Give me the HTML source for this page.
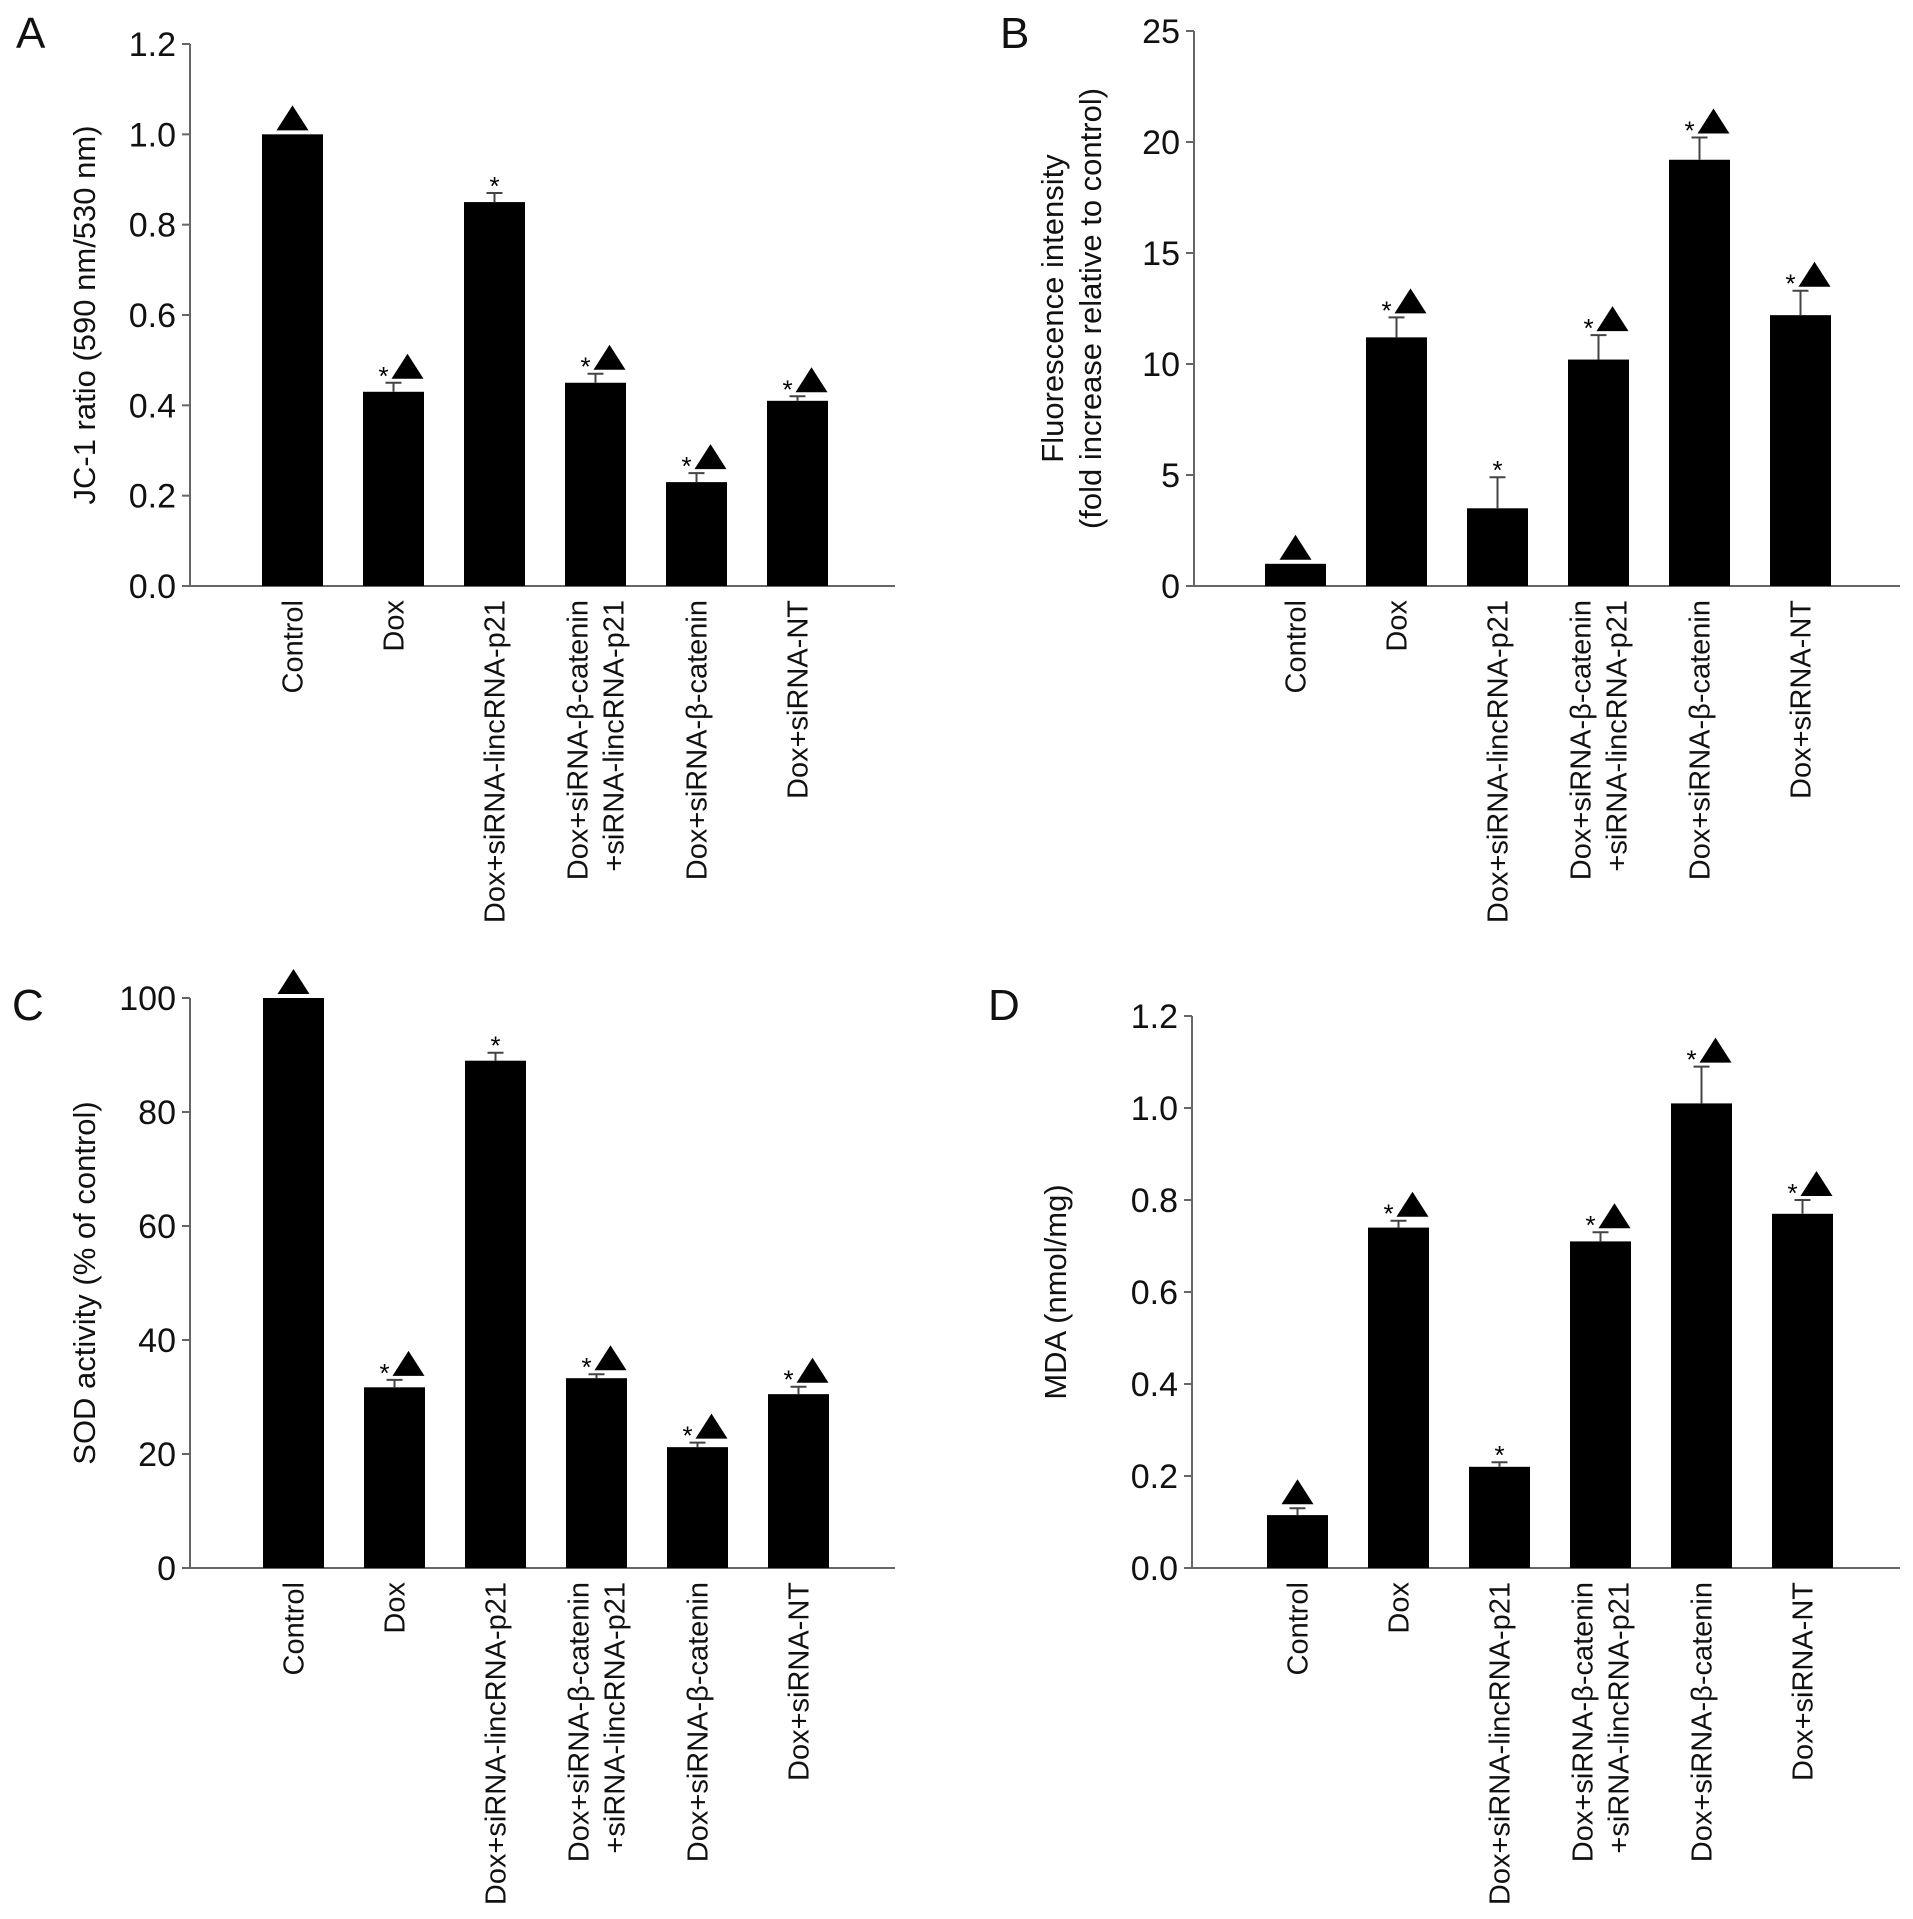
<!DOCTYPE html>
<html><head><meta charset="utf-8"><style>
html,body{margin:0;padding:0;background:#fff;}
svg{display:block;font-family:"Liberation Sans",sans-serif;}
</style></head><body>
<svg id="fig" width="1913" height="1919" viewBox="0 0 1913 1919"></svg>
<script>
const categories = ["Control","Dox","Dox+siRNA-lincRNA-p21","Dox+siRNA-β-catenin|+siRNA-lincRNA-p21","Dox+siRNA-β-catenin","Dox+siRNA-NT"];
const marks = ["t","st","s","st","st","st"];
const valuesA = [1.0,0.43,0.85,0.45,0.23,0.41];
const errA = [0,0.02,0.02,0.02,0.02,0.01];
const ticksA = ["0.0","0.2","0.4","0.6","0.8","1.0","1.2"];
const valuesB = [1.0,11.2,3.5,10.2,19.2,12.2];
const errB = [0,0.9,1.4,1.1,1.0,1.1];
const ticksB = ["0","5","10","15","20","25"];
const valuesC = [100,31.7,89,33.3,21.2,30.5];
const errC = [0,1.3,1.4,0.7,0.8,1.3];
const ticksC = ["0","20","40","60","80","100"];
const valuesD = [0.115,0.74,0.22,0.71,1.01,0.77];
const errD = [0.015,0.015,0.01,0.02,0.08,0.03];
const ticksD = ["0.0","0.2","0.4","0.6","0.8","1.0","1.2"];

const NS="http://www.w3.org/2000/svg";
const svg=document.getElementById('fig');
function mk(tag,attrs,parent,text){const e=document.createElementNS(NS,tag);for(const k in attrs)e.setAttribute(k,attrs[k]);if(text!==undefined)e.textContent=text;(parent||svg).appendChild(e);return e;}

function panel(o){
  const g=mk('g',{});
  
  
  const max=parseFloat(o.ticks[o.ticks.length-1]);
  const y=v=>o.y0-(v/max)*(o.y0-o.yTop);
  const bx=i=>o.bar0+i*101;
  const lt=mk('text',{x:o.lx,y:o.ly,'font-size':44,fill:'#111'},g,o.letter);
  
  
  const ax=mk('line',{x1:o.ax,y1:o.yTop,x2:o.ax,y2:o.y0,stroke:'#666','stroke-width':2},g);
  
  
  const xa=mk('line',{x1:o.ax-8,y1:o.y0,x2:o.xEnd,y2:o.y0,stroke:'#666','stroke-width':2},g);
  
  
  o.ticks.forEach(t=>{
    const ty=y(parseFloat(t));
    const tk=mk('line',{x1:o.ax-8,y1:ty,x2:o.ax,y2:ty,stroke:'#666','stroke-width':2},g);
    
    
    const tl=mk('text',{x:o.ax-14,y:ty+12,'font-size':34,'text-anchor':'end',fill:'#111'},g,t);
    
    
  });
  const cy=(o.yTop+o.y0)/2;
  o.title.forEach((line,k)=>{
    const tx=o.tx+k*38;
    const tt=mk('text',{x:tx,y:cy,'font-size':31,'text-anchor':'middle',fill:'#111',transform:`rotate(-90 ${tx} ${cy})`},g,line);
    
    
  });
  o.values.forEach((v,i)=>{
    const x=bx(i), w=61, c=x+w/2, top=y(v);
    const r=mk('rect',{x:x,y:top,width:w,height:o.y0-top,fill:'#000'},g);
    
    
    let markTop=top;
    if(o.err[i]>0){
      const et=y(v+o.err[i]);
      const el=mk('path',{d:`M${c} ${top}V${et}M${c-8} ${et}H${c+8}`,stroke:'#444','stroke-width':2,fill:'none'},g);
      
      
      markTop=et;
    }
    const m=marks[i];
    const base=markTop-4;
    if(m==='t'){
      const tr=mk('path',{d:`M${c-16} ${base}L${c+16} ${base}L${c} ${base-25}Z`,fill:'#000'},g);
      
      
    } else if(m==='st'){
      const st=mk('text',{x:c-10,y:base+6,'font-size':26,'text-anchor':'middle',fill:'#000'},g,'*');
      
      
      const tc=c+14;
      const tr=mk('path',{d:`M${tc-16} ${base}L${tc+16} ${base}L${tc} ${base-25}Z`,fill:'#000'},g);
      
      
    } else {
      const st=mk('text',{x:c,y:base+6,'font-size':26,'text-anchor':'middle',fill:'#000'},g,'*');
      
      
    }
    const lines=categories[i].split('|');
    lines.forEach((ln,k)=>{
      const lx=c+10+(k-(lines.length-1)/2)*36, ly=o.y0+14;
      const tl=mk('text',{x:lx,y:ly,'font-size':29,'text-anchor':'end',fill:'#111',transform:`rotate(-90 ${lx} ${ly})`},g,ln);
      
      
    });
  });
}
panel({letter:'A',lx:16,ly:48,ax:190,yTop:44,y0:586,xEnd:895,bar0:262,tx:95,title:['JC-1 ratio (590 nm/530 nm)'],ticks:ticksA,values:valuesA,err:errA});
panel({letter:'B',lx:1000,ly:48,ax:1194,yTop:31,y0:586,xEnd:1900,bar0:1265,tx:1063,title:['Fluorescence intensity','(fold increase relative to control)'],ticks:ticksB,values:valuesB,err:errB});
panel({letter:'C',lx:12,ly:1020,ax:190,yTop:998,y0:1568,xEnd:895,bar0:263,tx:95,title:['SOD activity (% of control)'],ticks:ticksC,values:valuesC,err:errC});
panel({letter:'D',lx:988,ly:1020,ax:1192,yTop:1016,y0:1568,xEnd:1900,bar0:1267,tx:1066,title:['MDA (nmol/mg)'],ticks:ticksD,values:valuesD,err:errD});
</script>
</body></html>
